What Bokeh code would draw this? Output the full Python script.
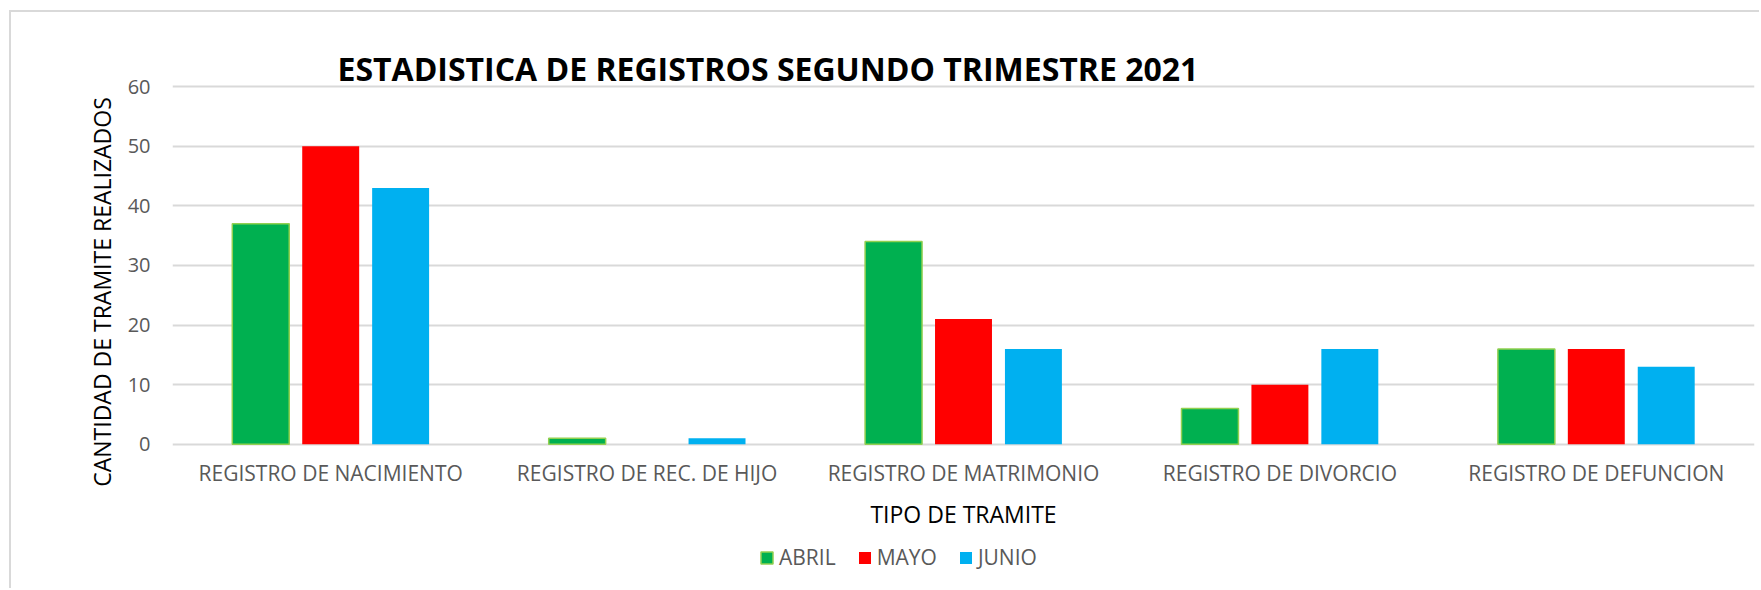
from bokeh.plotting import figure
from bokeh.models import (Range1d, FixedTicker, Legend, LegendItem,
                          ColumnDataSource, Label)
from bokeh.transform import dodge
from bokeh.core.properties import value
from bokeh.embed import file_html
from bokeh.resources import INLINE

categories = ["REGISTRO DE NACIMIENTO", "REGISTRO DE REC. DE HIJO",
              "REGISTRO DE MATRIMONIO", "REGISTRO DE DIVORCIO",
              "REGISTRO DE DEFUNCION"]
months = ["ABRIL", "MAYO", "JUNIO"]
abril = [37, 1, 34, 6, 16]
mayo = [50, 0, 21, 10, 16]
junio = [43, 1, 16, 16, 13]
y_ticks = [0, 10, 20, 30, 40, 50, 60]

title_text = "ESTADISTICA DE REGISTROS SEGUNDO TRIMESTRE 2021"
y_title = "CANTIDAD DE TRAMITE REALIZADOS"
x_title = "TIPO DE TRAMITE"

FONT = "Open Sans"
colors = ["#00B050", "#FF0000", "#00B0F0"]
outlines = ["#92D050", None, None]

src = ColumnDataSource(dict(x=list(range(len(categories))), cat=categories,
                            ABRIL=abril, MAYO=mayo, JUNIO=junio))

# frame spans the whole chart height so the y title centres correctly;
# gridlines only at the value ticks
p = figure(width=1750, height=578,
           x_range=Range1d(-0.5, 4.5), y_range=Range1d(-21.36, 72.45),
           output_backend="svg", toolbar_location=None,
           min_border_left=161, min_border_right=7,
           min_border_top=0, min_border_bottom=19)
p.margin = (10, 0, 0, 9)
p.styles = {"border-left": "2px solid #D9D9D9",
            "border-top": "2px solid #D9D9D9"}
p.outline_line_color = None
p.background_fill_color = "white"
p.border_fill_color = "white"
p.title.visible = False

offsets = [-0.221, 0.0, 0.221]
renderers = []
for m, off, c, oc in zip(months, offsets, colors, outlines):
    r = p.vbar(x=dodge("x", off, range=p.x_range), top=m, bottom=0,
               width=0.18, source=src, fill_color=c, line_color=oc,
               line_width=1.5)
    renderers.append(r)

p.add_layout(Label(x=0.0215, y=63.0, text=title_text, text_font=FONT,
                   text_font_size="32px", text_font_style="bold",
                   text_color="black", text_align="left",
                   text_baseline="alphabetic"))

# category labels under the zero line
p.text(x="x", y=-4.88, text="cat", source=src, text_align="center",
       text_baseline="alphabetic", text_font=value(FONT),
       text_font_size="21px", text_color="#595959")

p.add_layout(Label(x=2.0, y=-11.64, text=x_title, text_font=FONT,
                   text_font_size="23px", text_color="black",
                   text_align="center", text_baseline="alphabetic"))

p.xaxis.visible = False
p.xgrid.visible = False
p.ygrid.ticker = FixedTicker(ticks=y_ticks)
p.ygrid.grid_line_color = "#D9D9D9"
p.ygrid.grid_line_width = 2

p.yaxis.ticker = FixedTicker(ticks=y_ticks)
p.yaxis.axis_line_color = None
p.yaxis.major_tick_line_color = None
p.yaxis.minor_tick_line_color = None
p.yaxis.major_tick_out = 0
p.yaxis.major_label_standoff = 22
p.yaxis.major_label_text_font = FONT
p.yaxis.major_label_text_font_size = "20px"
p.yaxis.major_label_text_color = "#595959"
p.yaxis.axis_label = y_title
p.yaxis.axis_label_standoff = 7
p.yaxis.axis_label_text_font = FONT
p.yaxis.axis_label_text_font_size = "23px"
p.yaxis.axis_label_text_font_style = "normal"
p.yaxis.axis_label_text_color = "black"

legend = Legend(items=[LegendItem(label=m, renderers=[r])
                       for m, r in zip(months, renderers)],
                location=(587, 0), orientation="horizontal",
                padding=0, margin=0, border_line_color=None,
                background_fill_alpha=0, glyph_width=15, glyph_height=15,
                label_standoff=5, spacing=21,
                label_text_font=FONT, label_text_font_size="21px",
                label_text_color="#595959")
p.add_layout(legend)

open("out.html", "w").write(file_html(p, INLINE))
